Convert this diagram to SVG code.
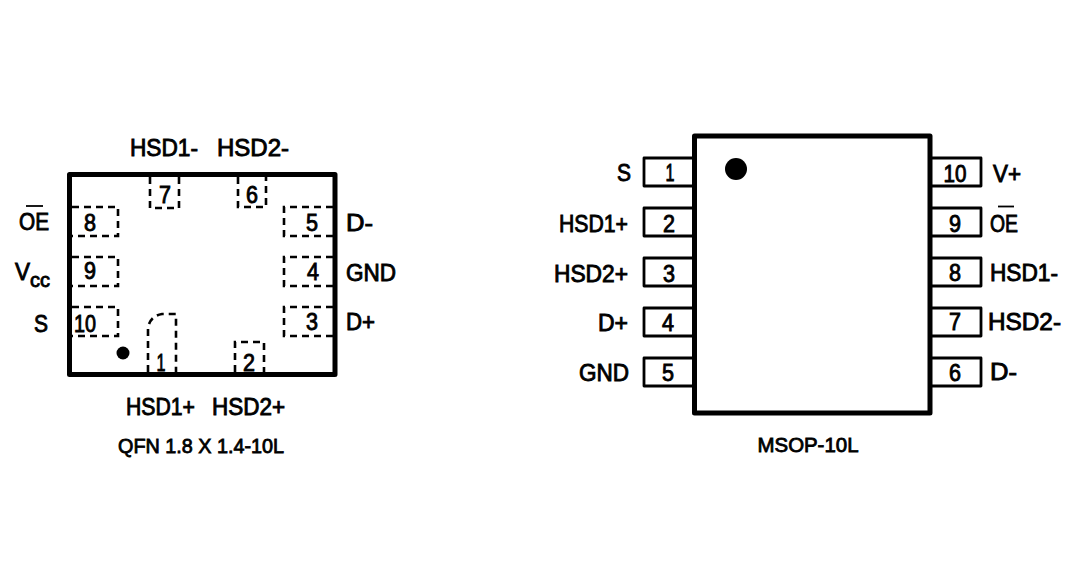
<svg xmlns="http://www.w3.org/2000/svg" width="1080" height="572" viewBox="0 0 1080 572">
<style>
text{font-family:"Liberation Sans",Arial,sans-serif;font-size:24px;fill:#000;stroke:#000;stroke-width:.9px}
.n{text-anchor:middle}
.s{font-size:20px;stroke-width:.8px}
.body{fill:none;stroke:#000;stroke-width:5;stroke-linejoin:round}
.pin{fill:none;stroke:#000;stroke-width:2.8;stroke-linejoin:round}
.dash{fill:none;stroke:#000;stroke-width:2.6;stroke-dasharray:7 5}
.bar{stroke:#000;stroke-width:1.8}
</style>
<rect width="1080" height="572" fill="#fff"/>
<g id="qfn">
<rect class="body" x="69.500" y="174.500" width="265.500" height="200"/>
<circle cx="123" cy="353" r="6.500"/>
<text class="s" x="201" y="453" text-anchor="middle" textLength="166" lengthAdjust="spacingAndGlyphs">QFN 1.8 X 1.4-10L</text>
</g>
<g id="qfn-pin-1"><path class="dash" d="M148 372V328Q150 316 162 314H176V372"/><text class="n" x="161" y="371" textLength="9" lengthAdjust="spacingAndGlyphs">1</text><text x="126" y="415" textLength="69" lengthAdjust="spacingAndGlyphs">HSD1+</text></g>
<g id="qfn-pin-2"><path class="dash" d="M235 372V342H264V372"/><text class="n" x="249" y="371" textLength="12" lengthAdjust="spacingAndGlyphs">2</text><text x="212" y="415" textLength="73" lengthAdjust="spacingAndGlyphs">HSD2+</text></g>
<g id="qfn-pin-3"><path class="dash" d="M333 336H284V307H333"/><text class="n" x="312" y="330" textLength="12" lengthAdjust="spacingAndGlyphs">3</text><text x="346" y="330" textLength="29" lengthAdjust="spacingAndGlyphs">D+</text></g>
<g id="qfn-pin-4"><path class="dash" d="M333 286H284V257H333"/><text class="n" x="313" y="280" textLength="12" lengthAdjust="spacingAndGlyphs">4</text><text x="346" y="281" textLength="50" lengthAdjust="spacingAndGlyphs">GND</text></g>
<g id="qfn-pin-5"><path class="dash" d="M333 236H284V207H333"/><text class="n" x="312" y="231" textLength="12" lengthAdjust="spacingAndGlyphs">5</text><text x="346" y="231" textLength="27" lengthAdjust="spacingAndGlyphs">D-</text></g>
<g id="qfn-pin-6"><path class="dash" d="M238 177V207H266V177"/><text class="n" x="252" y="203" textLength="12" lengthAdjust="spacingAndGlyphs">6</text><text x="217" y="156" textLength="72" lengthAdjust="spacingAndGlyphs">HSD2-</text></g>
<g id="qfn-pin-7"><path class="dash" d="M150 177V208H179V177"/><text class="n" x="165" y="203" textLength="12" lengthAdjust="spacingAndGlyphs">7</text><text x="130" y="156" textLength="68" lengthAdjust="spacingAndGlyphs">HSD1-</text></g>
<g id="qfn-pin-8"><path class="dash" d="M72 207H118V236H72"/><text class="n" x="90" y="231" textLength="12" lengthAdjust="spacingAndGlyphs">8</text><text x="19" y="230" textLength="30" lengthAdjust="spacingAndGlyphs">OE</text><line class="bar" x1="26" y1="206" x2="43" y2="206"/></g>
<g id="qfn-pin-9"><path class="dash" d="M72 257H118V286H72"/><text class="n" x="90" y="279" textLength="12" lengthAdjust="spacingAndGlyphs">9</text><text x="15" y="280" textLength="15" lengthAdjust="spacingAndGlyphs">V</text><text class="s" x="30" y="287" textLength="20" lengthAdjust="spacingAndGlyphs">cc</text></g>
<g id="qfn-pin-10"><path class="dash" d="M72 307H118V336H72"/><text class="n" x="85" y="332" textLength="22" lengthAdjust="spacingAndGlyphs">10</text><text x="34" y="332" textLength="14" lengthAdjust="spacingAndGlyphs">S</text></g>
<g id="msop">
<rect class="body" x="694.500" y="136" width="235.500" height="277"/>
<circle cx="736" cy="169" r="11"/>
<text class="s" x="808" y="452" text-anchor="middle" textLength="101" lengthAdjust="spacingAndGlyphs">MSOP-10L</text>
</g>
<g id="msop-pin-1"><path class="pin" d="M692 158H644V186H692"/><text class="n" x="670" y="181" textLength="9" lengthAdjust="spacingAndGlyphs">1</text><text x="617" y="181" textLength="14" lengthAdjust="spacingAndGlyphs">S</text></g>
<g id="msop-pin-2"><path class="pin" d="M692 208H644V236H692"/><text class="n" x="669" y="232" textLength="12" lengthAdjust="spacingAndGlyphs">2</text><text x="559" y="232" textLength="69" lengthAdjust="spacingAndGlyphs">HSD1+</text></g>
<g id="msop-pin-3"><path class="pin" d="M692 258H644V286H692"/><text class="n" x="669" y="282" textLength="12" lengthAdjust="spacingAndGlyphs">3</text><text x="554" y="282" textLength="74" lengthAdjust="spacingAndGlyphs">HSD2+</text></g>
<g id="msop-pin-4"><path class="pin" d="M692 308H644V336H692"/><text class="n" x="668" y="331" textLength="12" lengthAdjust="spacingAndGlyphs">4</text><text x="598" y="331" textLength="30" lengthAdjust="spacingAndGlyphs">D+</text></g>
<g id="msop-pin-5"><path class="pin" d="M692 358H644V386H692"/><text class="n" x="668" y="381" textLength="12" lengthAdjust="spacingAndGlyphs">5</text><text x="579" y="381" textLength="50" lengthAdjust="spacingAndGlyphs">GND</text></g>
<g id="msop-pin-6"><path class="pin" d="M932 358H981V386H932"/><text class="n" x="955" y="381" textLength="12" lengthAdjust="spacingAndGlyphs">6</text><text x="990" y="380" textLength="27" lengthAdjust="spacingAndGlyphs">D-</text></g>
<g id="msop-pin-7"><path class="pin" d="M932 308H981V336H932"/><text class="n" x="955" y="330" textLength="12" lengthAdjust="spacingAndGlyphs">7</text><text x="988" y="330" textLength="73" lengthAdjust="spacingAndGlyphs">HSD2-</text></g>
<g id="msop-pin-8"><path class="pin" d="M932 258H981V286H932"/><text class="n" x="955" y="281" textLength="12" lengthAdjust="spacingAndGlyphs">8</text><text x="990" y="281" textLength="68" lengthAdjust="spacingAndGlyphs">HSD1-</text></g>
<g id="msop-pin-9"><path class="pin" d="M932 208H981V236H932"/><text class="n" x="955" y="232" textLength="12" lengthAdjust="spacingAndGlyphs">9</text><text x="990" y="232" textLength="28" lengthAdjust="spacingAndGlyphs">OE</text><line class="bar" x1="998" y1="206.500" x2="1014" y2="206.500"/></g>
<g id="msop-pin-10"><path class="pin" d="M932 158H981V186H932"/><text class="n" x="955" y="182" textLength="23" lengthAdjust="spacingAndGlyphs">10</text><text x="993" y="182" textLength="28" lengthAdjust="spacingAndGlyphs">V+</text></g>
</svg>
